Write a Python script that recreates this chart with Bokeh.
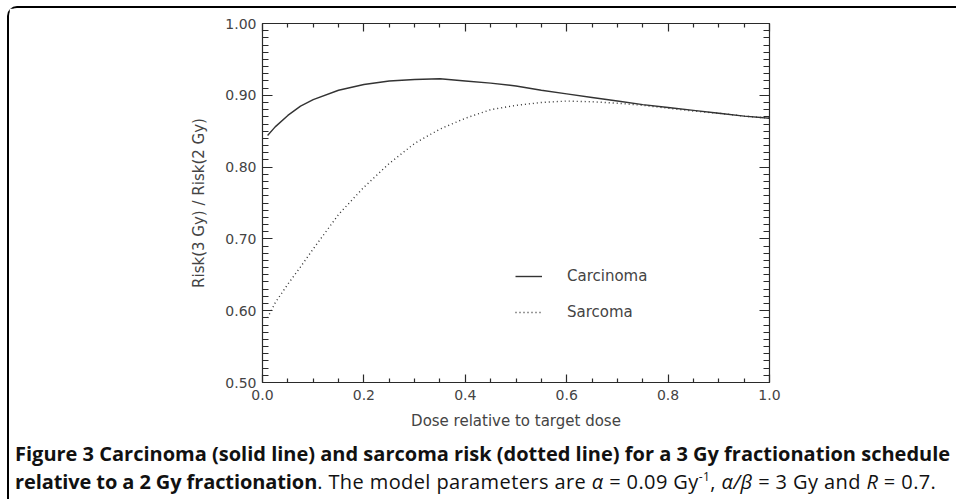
from bokeh.plotting import figure
from bokeh.models import (Range1d, LinearAxis, FixedTicker, NumeralTickFormatter,
                          CustomJSTickFormatter, Legend, LegendItem, Div)
from bokeh.layouts import column
from bokeh.embed import file_html
from bokeh.resources import INLINE

# ---- data ----
dose = [0.01, 0.025, 0.05, 0.075, 0.1, 0.15, 0.2, 0.25, 0.3, 0.35, 0.4, 0.45,
        0.5, 0.55, 0.6, 0.65, 0.7, 0.75, 0.8, 0.85, 0.9, 0.95, 1.0]
carcinoma = [0.844, 0.856, 0.872, 0.885, 0.894, 0.907, 0.915, 0.920, 0.922, 0.923,
             0.920, 0.917, 0.913, 0.907, 0.902, 0.897, 0.892, 0.887, 0.883, 0.879,
             0.875, 0.871, 0.868]
sarcoma = [0.590, 0.611, 0.637, 0.661, 0.686, 0.734, 0.772, 0.805, 0.833, 0.853,
           0.868, 0.880, 0.886, 0.890, 0.892, 0.891, 0.889, 0.886, 0.882, 0.878,
           0.875, 0.871, 0.868]
series_names = ["Carcinoma", "Sarcoma"]
x_major = [0.0, 0.2, 0.4, 0.6, 0.8, 1.0]
x_minor = [0.05, 0.1, 0.15, 0.25, 0.3, 0.35, 0.45, 0.5, 0.55, 0.65, 0.7, 0.75,
           0.85, 0.9, 0.95]
y_major = [0.5, 0.6, 0.7, 0.8, 0.9, 1.0]
y_minor = [round(0.5 + 0.01 * i, 2) for i in range(51)]
x_label = "Dose relative to target dose"
y_label = "Risk(3 Gy) / Risk(2 Gy)"

FONT = "DejaVu Sans"
INK = "#2a2a2a"
TXT = "#444444"

p = figure(width=946, height=424, x_range=Range1d(0, 1), y_range=Range1d(0.5, 1.0),
           output_backend="svg", toolbar_location=None,
           min_border_left=253, min_border_right=186, min_border_top=15,
           min_border_bottom=48)
p.xgrid.visible = False
p.ygrid.visible = False
p.outline_line_color = None
p.background_fill_color = "white"
p.border_fill_color = "white"

def style_axis(ax, major, minor, horizontal, labels):
    ax.ticker = FixedTicker(ticks=major, minor_ticks=minor)
    ax.axis_line_color = INK
    ax.axis_line_width = 1.2
    ax.major_tick_line_color = INK
    ax.minor_tick_line_color = INK
    ax.major_tick_line_width = 1.2
    ax.minor_tick_line_width = 1.2
    ax.major_tick_out = 0
    ax.minor_tick_out = 0
    if horizontal:
        ax.major_tick_in = 8
        ax.minor_tick_in = 4
    else:
        ax.major_tick_in = 10
        ax.minor_tick_in = 6
    if labels:
        ax.major_label_text_font = FONT
        ax.major_label_text_font_size = "14px"
        ax.major_label_text_color = TXT
        ax.axis_label_text_font = FONT
        ax.axis_label_text_font_size = "15px"
        ax.axis_label_text_font_style = "normal"
        ax.axis_label_text_color = TXT
    else:
        ax.formatter = CustomJSTickFormatter(code="return ''")
        ax.major_label_text_font_size = "1px"

xa = p.xaxis[0]
ya = p.yaxis[0]
style_axis(xa, x_major, x_minor, True, True)
style_axis(ya, y_major, y_minor, False, True)
xa.formatter = NumeralTickFormatter(format="0.0")
ya.formatter = NumeralTickFormatter(format="0.00")
xa.axis_label = x_label
ya.axis_label = y_label
xa.major_label_standoff = 7
ya.major_label_standoff = 6
xa.axis_label_standoff = 9
ya.axis_label_standoff = 14

top = LinearAxis()
right = LinearAxis()
style_axis(top, x_major, x_minor, True, False)
style_axis(right, y_major, y_minor, False, False)
p.add_layout(top, "above")
p.add_layout(right, "right")

r1 = p.line(dose, carcinoma, line_color="#333333", line_width=1.4)
r2 = p.line(dose, sarcoma, line_color="#333333", line_width=1.4, line_dash="1 3")

legend = Legend(items=[LegendItem(label=series_names[0], renderers=[r1]),
                       LegendItem(label=series_names[1], renderers=[r2])],
                location=(253, 60), border_line_color=None, background_fill_alpha=0,
                padding=0, margin=0, spacing=16, glyph_width=27, glyph_height=20,
                label_height=20, label_standoff=25, label_text_font=FONT,
                label_text_font_size="15px", label_text_color=TXT)
p.add_layout(legend)

caption_html = (
    "<div style=\"font-family:'Open Sans',sans-serif;font-size:20px;line-height:28px;"
    "color:#111;padding:0;margin:3px 0 0 1px;white-space:nowrap;letter-spacing:0px\">"
    "<b>Figure 3 Carcinoma (solid line) and sarcoma risk (dotted line) for a 3 Gy "
    "fractionation schedule</b><br><b style=\"letter-spacing:-0.1px\">relative to a 2 Gy "
    "fractionation</b><span style=\"letter-spacing:0.4px\">. The model "
    "parameters are <i>&alpha;</i> = 0.09 Gy<sup style=\"font-size:12px;line-height:0\">-1</sup>, "
    "<i>&alpha;/&beta;</i> = 3 Gy and <i>R</i> = 0.7.</span></div>"
)
cap = Div(text=caption_html, width=946, height=65)

layout = column(p, cap, styles={
    "border-left": "2px solid #000", "border-top": "2px solid #000",
    "border-bottom": "2px solid #000",
    "border-top-left-radius": "10px", "border-bottom-left-radius": "10px",
    "margin-left": "7px", "margin-top": "6px",
})

open("out.html", "w").write(file_html(layout, INLINE))
